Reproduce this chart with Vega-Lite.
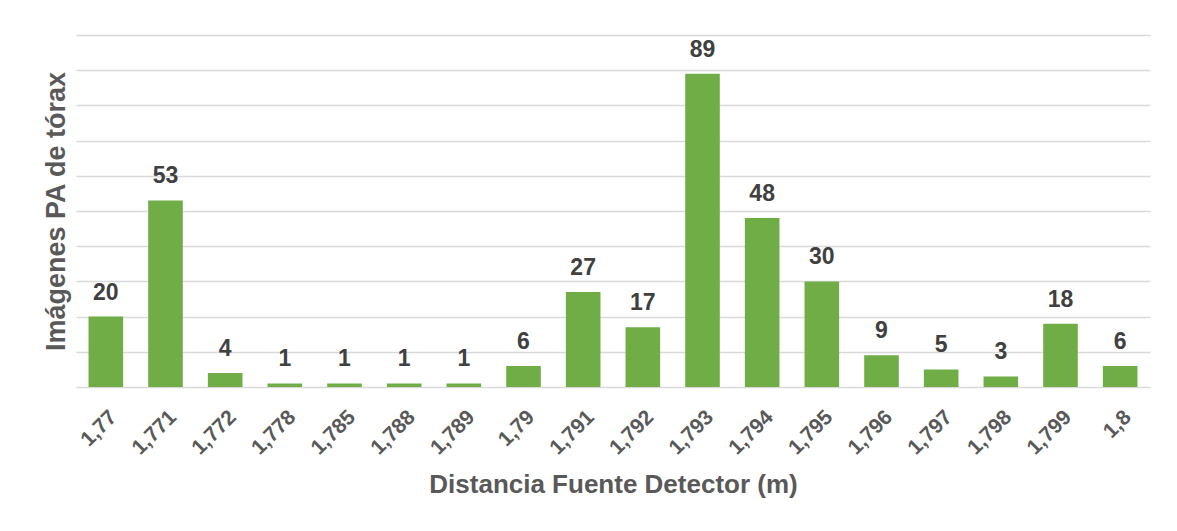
{
  "$schema": "https://vega.github.io/schema/vega-lite/v6.json",
  "width": 1074,
  "height": 352,
  "autosize": "none",
  "padding": {"left": 76, "top": 35, "right": 27, "bottom": 144},
  "background": "#ffffff",
  "config": {
    "view": {"stroke": null},
    "font": "Liberation Sans"
  },
  "data": {
    "values": [
      {"distancia": "1,77", "imagenes": 20},
      {"distancia": "1,771", "imagenes": 53},
      {"distancia": "1,772", "imagenes": 4},
      {"distancia": "1,778", "imagenes": 1},
      {"distancia": "1,785", "imagenes": 1},
      {"distancia": "1,788", "imagenes": 1},
      {"distancia": "1,789", "imagenes": 1},
      {"distancia": "1,79", "imagenes": 6},
      {"distancia": "1,791", "imagenes": 27},
      {"distancia": "1,792", "imagenes": 17},
      {"distancia": "1,793", "imagenes": 89},
      {"distancia": "1,794", "imagenes": 48},
      {"distancia": "1,795", "imagenes": 30},
      {"distancia": "1,796", "imagenes": 9},
      {"distancia": "1,797", "imagenes": 5},
      {"distancia": "1,798", "imagenes": 3},
      {"distancia": "1,799", "imagenes": 18},
      {"distancia": "1,8", "imagenes": 6}
    ]
  },
  "encoding": {
    "x": {
      "field": "distancia",
      "type": "nominal",
      "sort": null,
      "scale": {"paddingInner": 0.42, "paddingOuter": 0.21},
      "axis": {
        "title": "Distancia Fuente Detector (m)",
        "titleFont": "Liberation Sans",
        "titleFontSize": 26,
        "titleFontWeight": "bold",
        "titleColor": "#595959",
        "titlePadding": 13,
        "labelAngle": -45,
        "labelFont": "Liberation Sans",
        "labelFontSize": 21,
        "labelFontWeight": "bold",
        "labelColor": "#595959",
        "labelPadding": 19,
        "ticks": false,
        "domain": false,
        "grid": false
      }
    },
    "y": {
      "field": "imagenes",
      "type": "quantitative",
      "scale": {"domain": [0, 100], "nice": false},
      "axis": {
        "title": "Imágenes PA de tórax",
        "titleFont": "Liberation Sans",
        "titleFontSize": 27,
        "titleFontWeight": "bold",
        "titleColor": "#595959",
        "titlePadding": 6,
        "values": [0, 10, 20, 30, 40, 50, 60, 70, 80, 90, 100],
        "labels": false,
        "ticks": false,
        "domain": false,
        "grid": true,
        "gridColor": "#d9d9d9",
        "gridWidth": 1.5
      }
    }
  },
  "layer": [
    {"mark": {"type": "bar", "color": "#70ad47"}},
    {
      "mark": {
        "type": "text",
        "baseline": "alphabetic",
        "dy": -17,
        "font": "Liberation Sans",
        "fontSize": 23,
        "fontWeight": "bold",
        "color": "#404040"
      },
      "encoding": {"text": {"field": "imagenes", "type": "quantitative"}}
    }
  ]
}
